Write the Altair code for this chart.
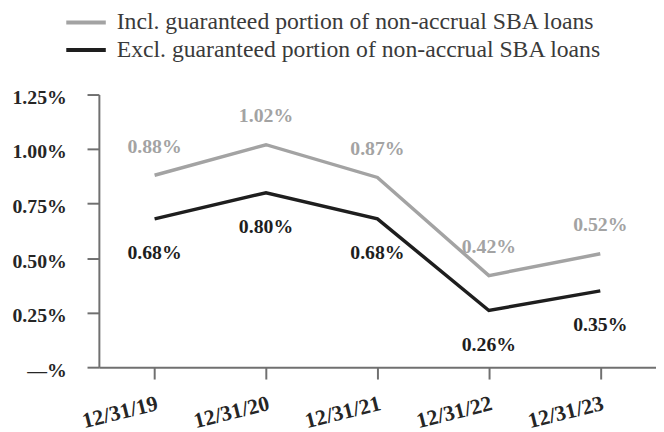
import altair as alt
import pandas as pd

dates = ["12/31/19", "12/31/20", "12/31/21", "12/31/22", "12/31/23"]
incl = [0.88, 1.02, 0.87, 0.42, 0.52]
excl = [0.68, 0.80, 0.68, 0.26, 0.35]
series_names = [
    "Incl. guaranteed portion of non-accrual SBA loans",
    "Excl. guaranteed portion of non-accrual SBA loans",
]
y_ticks = [0, 0.25, 0.5, 0.75, 1.0, 1.25]

rows = []
for d, a, b in zip(dates, incl, excl):
    rows.append({"date": d, "value": a, "series": series_names[0]})
    rows.append({"date": d, "value": b, "series": series_names[1]})
df = pd.DataFrame(rows)

FONT = "Liberation Serif"
GRAY = "#a3a3a3"
BLACK = "#1e1e1e"

x_enc = alt.X(
    "date:N",
    sort=dates,
    scale=alt.Scale(type="point", padding=0.5),
    axis=alt.Axis(
        title=None,
        labelAngle=346,
        labelAlign="right",
        labelBaseline="top",
        labelPadding=14,
        labelFont=FONT,
        labelFontSize=22,
        labelFontWeight="bold",
        labelColor="#262626",
        tickSize=12,
        tickColor="#707070",
        tickWidth=2,
        domainColor="#707070",
        domainWidth=2,
        grid=False,
    ),
)
y_enc = alt.Y(
    "value:Q",
    scale=alt.Scale(domain=[0, 1.25], nice=False),
    axis=alt.Axis(
        title=None,
        values=y_ticks,
        labelExpr="datum.value == 0 ? '—%' : format(datum.value, '.2f') + '%'",
        labelFont=FONT,
        labelFontSize=20,
        labelFontWeight="bold",
        labelColor="#262626",
        labelPadding=21,
        labelOffset=3,
        tickSize=12,
        tickColor="#707070",
        tickWidth=2,
        domainColor="#707070",
        domainWidth=2,
        grid=False,
    ),
)

lines = alt.Chart(df).mark_line(strokeWidth=3.5).encode(
    x=x_enc,
    y=y_enc,
    color=alt.Color(
        "series:N",
        scale=alt.Scale(domain=series_names, range=[GRAY, BLACK]),
        legend=alt.Legend(
            title=None,
            orient="none",
            legendX=-25,
            legendY=-85,
            padding=0,
            symbolType="M-4,0H4",
            symbolSize=100,
            symbolStrokeWidth=4,
            labelFont=FONT,
            labelFontSize=24,
            labelColor="#3a3a3a",
            labelOffset=19,
            rowPadding=4,
            labelLimit=600,
        ),
    ),
)

text_incl = alt.Chart(df).transform_filter(
    alt.datum.series == series_names[0]
).transform_calculate(lbl="format(datum.value, '.2f') + '%'").mark_text(
    font=FONT, fontSize=20, fontWeight="bold", color=GRAY, dy=-29, baseline="middle"
).encode(
    x=alt.X("date:N", sort=dates),
    y="value:Q",
    text="lbl:N",
)

text_excl = alt.Chart(df).transform_filter(
    alt.datum.series == series_names[1]
).transform_calculate(lbl="format(datum.value, '.2f') + '%'").mark_text(
    font=FONT, fontSize=20, fontWeight="bold", color=BLACK, dy=35, baseline="middle"
).encode(
    x=alt.X("date:N", sort=dates),
    y="value:Q",
    text="lbl:N",
)

chart = alt.layer(lines, text_incl, text_excl).properties(
    width=564,
    height=276,
    padding={"left": 92, "top": 85, "right": 0, "bottom": 63},
    autosize=alt.AutoSizeParams(type="none"),
).configure_view(stroke=None)

chart.save("out.html", embed_options={"renderer": "svg", "actions": False})
